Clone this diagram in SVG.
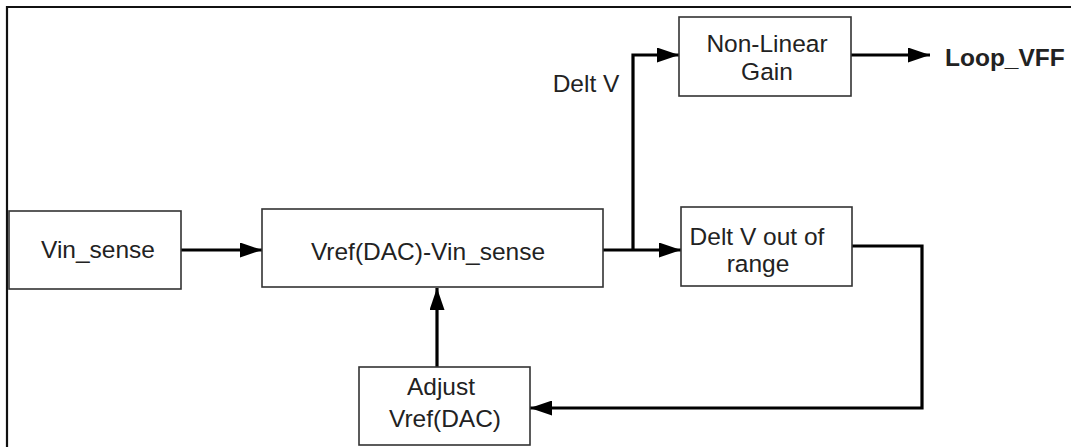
<svg xmlns="http://www.w3.org/2000/svg" width="1071" height="447" viewBox="0 0 1071 447">
<style>
.box{fill:#fff;stroke:#333;stroke-width:1.6}
.lbl{font-family:"Liberation Sans",Arial,sans-serif;font-size:24.5px;fill:#222;text-anchor:middle}
.bold{font-weight:bold;text-anchor:start}
.conn{fill:none;stroke:#000;stroke-width:3.2;marker-end:url(#ah)}
.frame{fill:none;stroke:#111;stroke-width:2.2}
</style>
<defs>
<marker id="ah" viewBox="0 0 22 15" refX="22" refY="7.5" markerWidth="22" markerHeight="15" orient="auto" markerUnits="userSpaceOnUse">
<path d="M0,0 L22,7.5 L0,15 Z" fill="#000"/>
</marker>
</defs>
<rect width="1071" height="447" fill="#fff"/>
<path class="frame" d="M7,447 V7 H1071"/>
<g id="connectors">
<path class="conn" d="M181,250 H262"/>
<path class="conn" d="M603,250 H681"/>
<path class="conn" d="M633,250 V55 H679"/>
<path class="conn" d="M851,55 H930"/>
<path class="conn" d="M852,246 H922 V408 H530"/>
<path class="conn" d="M437,367 V288"/>
</g>
<g id="vin_sense">
<rect class="box" x="9" y="211" width="172" height="78"/>
<text class="lbl" x="98" y="258">Vin_sense</text>
</g>
<g id="vref_minus_vin">
<rect class="box" x="262" y="209" width="341" height="78"/>
<text class="lbl" x="428" y="260">Vref(DAC)-Vin_sense</text>
</g>
<g id="non_linear_gain">
<rect class="box" x="679" y="17" width="172" height="79"/>
<text class="lbl" x="767" y="52">Non-Linear</text>
<text class="lbl" x="767" y="80">Gain</text>
</g>
<g id="delt_v_out_of_range">
<rect class="box" x="681" y="207" width="171" height="79"/>
<text class="lbl" x="757" y="245">Delt V out of</text>
<text class="lbl" x="758" y="272">range</text>
</g>
<g id="adjust_vref">
<rect class="box" x="359" y="367" width="171" height="78"/>
<text class="lbl" x="441" y="395">Adjust</text>
<text class="lbl" x="445" y="427">Vref(DAC)</text>
</g>
<g id="delt_v_label">
<text class="lbl" x="586" y="92">Delt V</text>
</g>
<g id="loop_vff">
<text class="lbl bold" x="945" y="66">Loop_VFF</text>
</g>
</svg>
